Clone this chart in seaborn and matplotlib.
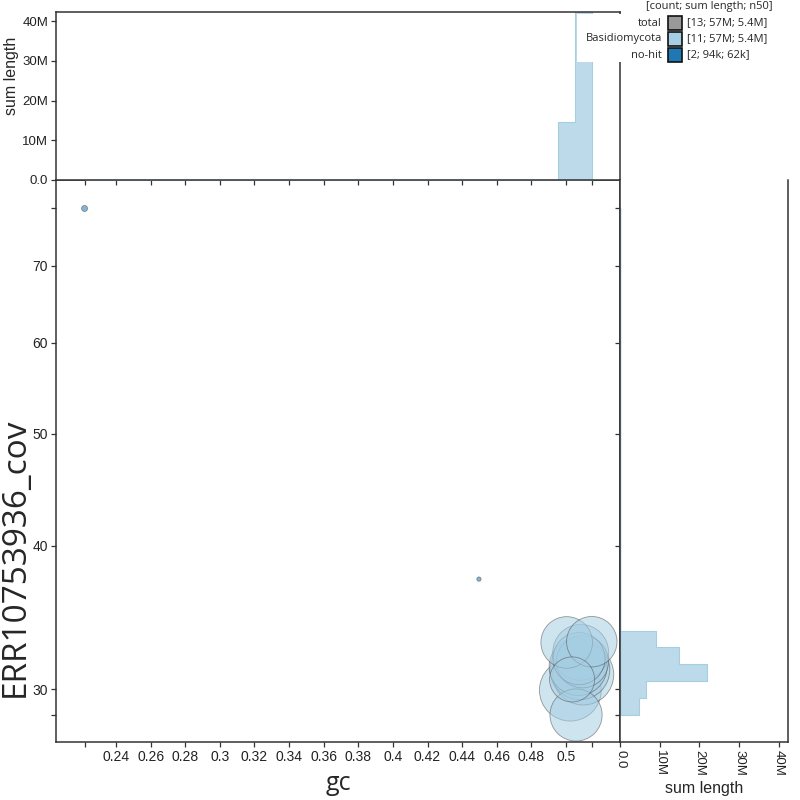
import numpy as np
import pandas as pd
import matplotlib
matplotlib.use("Agg")
import matplotlib.pyplot as plt
import seaborn as sns
from matplotlib.patches import Rectangle
from matplotlib.ticker import FixedLocator, FuncFormatter, NullFormatter

# ---------------- data ----------------
categories = ["Basidiomycota"] * 11 + ["no-hit"] * 2
gc = [0.5004, 0.5149, 0.5085, 0.5075, 0.5095, 0.5035, 0.5080, 0.5100, 0.5070, 0.5025, 0.5058,
      0.2218, 0.4497]
cov = [32.95, 33.0, 32.3, 31.9, 31.7, 30.6, 31.2, 30.9, 31.4, 29.95, 28.5,
       78.5, 37.4]
length = [4.6e6, 4.4e6, 5.4e6, 4.7e6, 4.7e6, 3.5e6, 6.2e6, 6.4e6, 5.8e6, 6.6e6, 4.7e6,
          62e3, 32e3]

legend_names = ["total", "Basidiomycota", "no-hit"]
legend_values = ["[13; 57M; 5.4M]", "[11; 57M; 5.4M]", "[2; 94k; 62k]"]
legend_colors = ["#999999", "#a6cee3", "#1f78b4"]

x_ticks = [0.24, 0.26, 0.28, 0.30, 0.32, 0.34, 0.36, 0.38, 0.40, 0.42, 0.44, 0.46, 0.48, 0.50]
y_ticks = [30, 40, 50, 60, 70]
hist_ticks = [0, 10e6, 20e6, 30e6, 40e6]
hist_tick_labels = ["0.0", "10M", "20M", "30M", "40M"]

x_lim = (0.2053, 0.5312)
y_lim = (27.0, 83.1)
hist_lim = 42.3e6

palette = {"Basidiomycota": "#a6cee3", "no-hit": "#1f78b4"}
hue_order = ["Basidiomycota", "no-hit"]

df = pd.DataFrame({"cat": categories, "gc": gc, "cov": cov, "length": length})
df = df.sort_values("length", ascending=False)

# ---------------- figure ----------------
sns.set_style("ticks")
plt.rcParams["font.family"] = ["Liberation Sans", "DejaVu Sans"]

W = H = 800
fig = plt.figure(figsize=(8, 8), dpi=100)


def px(l, t, r, b):
    return [l / W, 1 - b / H, (r - l) / W, (b - t) / H]


ax = fig.add_axes(px(56, 180, 620, 742))
axt = fig.add_axes(px(56, 12, 620, 180), sharex=ax)
axr = fig.add_axes(px(620, 180, 788, 742), sharey=ax)

# bubbles: area proportional to length
k = 3.0e-4
lmin, lmax = min(length), max(length)
sns.scatterplot(data=df, x="gc", y="cov", hue="cat", palette=palette, hue_order=hue_order,
                size="length", sizes=(k * lmin, k * lmax), size_norm=(lmin, lmax),
                alpha=0.55, edgecolor="#4a4a4a", linewidth=0.6, legend=False, ax=ax)
ax.set_yscale("log")

# histograms
sns.histplot(data=df, x="gc", weights="length", hue="cat", palette=palette, hue_order=hue_order,
             bins=30, element="step", fill=True, alpha=0.75, linewidth=0.8,
             legend=False, ax=axt)
sns.histplot(data=df, y="cov", weights="length", hue="cat", palette=palette, hue_order=hue_order,
             bins=30, log_scale=True, element="step", fill=True, alpha=0.75, linewidth=0.8,
             legend=False, ax=axr)

# ---------------- axes styling ----------------
spine_col = "#333333"
for a in (ax, axt, axr):
    for s in a.spines.values():
        s.set_color(spine_col)
        s.set_linewidth(1.1)
        s.set_zorder(4)
    a.tick_params(which="both", length=3.5, width=0.9, color=spine_col, pad=2.5,
                  labelsize=10, labelcolor="#222222", direction="out")
    a.set_xlabel("")
    a.set_ylabel("")
axr.spines["top"].set_visible(False)

ax.set_xlim(*x_lim)
ax.set_ylim(*y_lim)
ax.xaxis.set_major_locator(FixedLocator(x_ticks))
ax.xaxis.set_major_formatter(FuncFormatter(lambda v, p: f"{v:g}"))
ax.xaxis.set_minor_locator(FixedLocator([min(gc), max(gc)]))
ax.xaxis.set_minor_formatter(NullFormatter())
ax.yaxis.set_major_locator(FixedLocator(y_ticks))
ax.yaxis.set_major_formatter(FuncFormatter(lambda v, p: f"{v:g}"))
ax.yaxis.set_minor_locator(FixedLocator([min(cov), max(cov)]))
ax.yaxis.set_minor_formatter(NullFormatter())

axt.set_ylim(0, hist_lim)
axt.set_yticks(hist_ticks)
axt.set_yticklabels(hist_tick_labels)
axt.tick_params(axis="x", which="both", labelbottom=False)
axt.tick_params(axis="y", labelsize=9.5, pad=2)

axr.set_xlim(0, hist_lim)
axr.set_xticks(hist_ticks)
axr.set_xticklabels(hist_tick_labels, rotation=-90)
axr.tick_params(axis="x", labelsize=9.5, pad=2)
axr.tick_params(axis="y", which="both", labelleft=False)

# axis labels
fig.text(338 / W, 1 - 784 / H, "gc", fontsize=18, family="Open Sans", ha="center", va="center")
fig.text(15 / W, 1 - 557 / H, "ERR10753936_cov", fontsize=24, family="Open Sans",
         rotation=90, ha="center", va="center")
fig.text(12 / W, 1 - 76 / H, "sum length", fontsize=11.5, rotation=90, ha="center", va="center")
fig.text(704 / W, 1 - 788 / H, "sum length", fontsize=11.5, ha="center", va="center")

# ---------------- legend ----------------
fig.add_artist(Rectangle((577 / W, 1 - 62 / H), 223 / W, 48 / H, transform=fig.transFigure,
                         facecolor="white", edgecolor="none", zorder=3))
fig.text(773 / W, 1 - 7 / H, "[count; sum length; n50]", fontsize=8, family="Open Sans",
         ha="right", va="center", zorder=5)
row_y = [23, 39, 55]
for name, val, col, yy in zip(legend_names, legend_values, legend_colors, row_y):
    fig.text(662 / W, 1 - yy / H, name, fontsize=8, family="Open Sans",
             ha="right", va="center", zorder=5)
    fig.add_artist(Rectangle((668 / W, 1 - (yy + 7) / H), 14 / W, 14 / H,
                             transform=fig.transFigure, facecolor=col,
                             edgecolor="#111111", linewidth=1.2, zorder=5))
    fig.text(687 / W, 1 - yy / H, val, fontsize=8, family="Open Sans",
             ha="left", va="center", zorder=5)

fig.savefig("out.png", dpi=100)
